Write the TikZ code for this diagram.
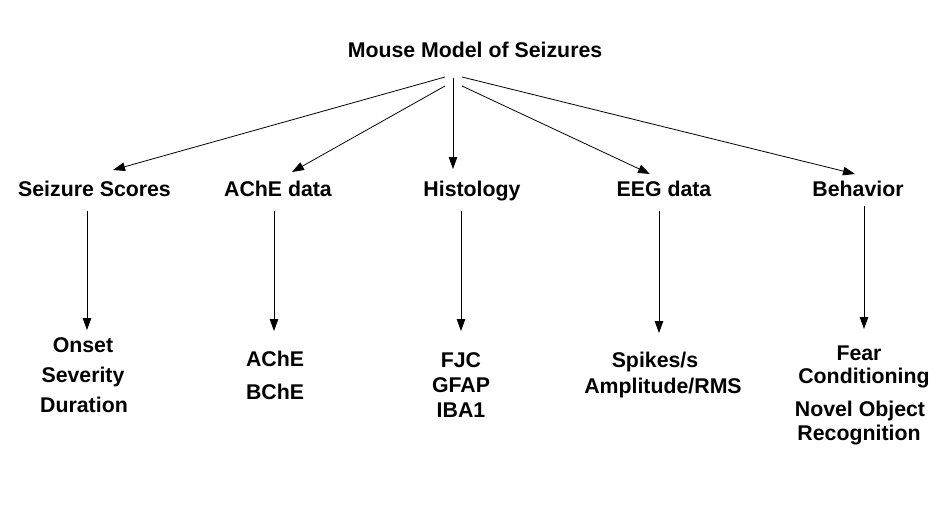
\documentclass[tikz,border=0pt]{standalone}
\usepackage{fontspec}
\setmainfont{Liberation Sans}
\usetikzlibrary{arrows.meta}
\begin{document}
\begin{tikzpicture}[x=1pt,y=-1pt,
  lbl/.style={inner sep=0pt,anchor=base,font=\fontsize{21.3}{25}\selectfont\bfseries},
  arr/.style={line width=0.8pt,-{Triangle[length=12pt,width=8.5pt]}}]
\useasboundingbox (0,0) rectangle (943,530);
% title
\node[lbl] (title) at (475,57) {Mouse Model of Seizures};
% level 2
\node[lbl] (ss)   at (94.5,196) {Seizure Scores};
\node[lbl] (ache) at (278,196) {AChE data};
\node[lbl] (hist) at (472,196) {Histology};
\node[lbl] (eeg)  at (664,196) {EEG data};
\node[lbl] (beh)  at (858,196) {Behavior};
% level 3
\node[lbl] (onset) at (83,352) {Onset};
\node[lbl] (sev)   at (83,382) {Severity};
\node[lbl] (dur)   at (84,412) {Duration};
\node[lbl] (ache2) at (275,366) {AChE};
\node[lbl] (bche)  at (275,399) {BChE};
\node[lbl] (fjc)   at (461,367) {FJC};
\node[lbl] (gfap)  at (461,392) {GFAP};
\node[lbl] (iba)   at (461,417) {IBA1};
\node[lbl] (spk)   at (655,367) {Spikes/s};
\node[lbl] (amp)   at (663,393) {Amplitude/RMS};
\node[lbl] (fear)  at (859,360) {Fear};
\node[lbl] (cond)  at (864,383) {Conditioning};
\node[lbl] (novel) at (860,416) {Novel Object};
\node[lbl] (recog) at (859,440) {Recognition};
% connector points
\coordinate (s1) at (445,77);
\coordinate (s2) at (445,86);
\coordinate (s3) at (453,78);
\coordinate (s4) at (462,86);
\coordinate (s5) at (462,77);
\coordinate (e1) at (113,170);
\coordinate (e2) at (292,172);
\coordinate (e3) at (453,169);
\coordinate (e4) at (650,174);
\coordinate (e5) at (855,174);
\draw[arr] (s1) -- (e1);
\draw[arr] (s2) -- (e2);
\draw[arr] (s3) -- (e3);
\draw[arr] (s4) -- (e4);
\draw[arr] (s5) -- (e5);
% vertical connectors
\coordinate (v1) at (87,211);
\coordinate (w1) at (87,330);
\coordinate (v2) at (274,211);
\coordinate (w2) at (274,331);
\coordinate (v3) at (461,211);
\coordinate (w3) at (461,331);
\coordinate (v4) at (659,211);
\coordinate (w4) at (659,333);
\coordinate (v5) at (864,206);
\coordinate (w5) at (864,329);
\draw[arr] (v1) -- (w1);
\draw[arr] (v2) -- (w2);
\draw[arr] (v3) -- (w3);
\draw[arr] (v4) -- (w4);
\draw[arr] (v5) -- (w5);
\end{tikzpicture}
\end{document}
